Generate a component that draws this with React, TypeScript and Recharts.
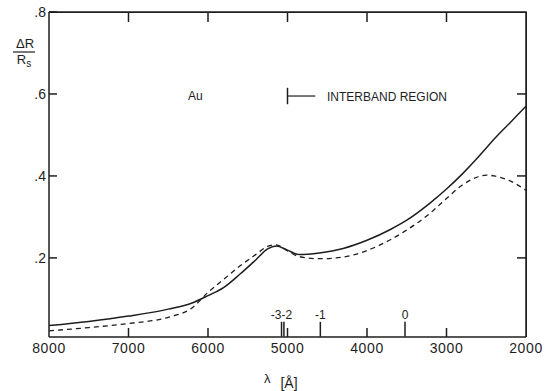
import React from 'react';
import { LineChart, Line, XAxis, YAxis, ReferenceLine, Customized } from 'recharts';

// wavelength in Angstrom (axis runs 8000 -> 2000)
const wavelengths = [8000, 7500, 7000, 6500, 6200, 6000, 5800, 5600, 5400, 5250, 5140, 5000, 4850, 4600, 4300, 4000, 3700, 3500, 3200, 3000, 2800, 2600, 2500, 2400, 2200, 2000];
const solidValues = [0.035, 0.045, 0.058, 0.075, 0.09, 0.108, 0.128, 0.16, 0.195, 0.222, 0.229, 0.219, 0.208, 0.212, 0.223, 0.243, 0.27, 0.292, 0.335, 0.368, 0.405, 0.446, 0.468, 0.49, 0.53, 0.57];
const dashedValues = [0.022, 0.03, 0.04, 0.055, 0.078, 0.116, 0.148, 0.18, 0.208, 0.228, 0.232, 0.217, 0.203, 0.198, 0.202, 0.218, 0.245, 0.268, 0.31, 0.345, 0.378, 0.398, 0.402, 0.4, 0.388, 0.365];

const xTicks = [8000, 7000, 6000, 5000, 4000, 3000, 2000];
const innerXTicks = [7000, 6000, 5000, 4000, 3000];
const yTicks = [0.2, 0.4, 0.6, 0.8];
const yTickLabels = ['.2', '.4', '.6', '.8'];
const rightYTicks = [0.2, 0.4, 0.6];

// level markers on the wavelength axis
const levelMarks = [5075, 5045, 4587, 3522];
const levelLabels = [
  { at: 5075, text: '-3-2' },
  { at: 4587, text: '-1' },
  { at: 3522, text: '0' },
];

const data = wavelengths.map((w, i) => ({ w, solid: solidValues[i], dashed: dashedValues[i] }));

const INK = '#1e1e1e';
const FONT = '"Liberation Sans", Arial, sans-serif';
const X_MIN = 2000;
const X_MAX = 8000;
const Y_MIN = 0.007;
const Y_MAX = 0.8;

// plot box (chart size minus margins / axis sizes)
const W = 549;
const H = 391;
const M = { top: 12, right: 23, bottom: 24, left: 9 };
const Y_AXIS_W = 40;
const X_AXIS_H = 30;
const PL = M.left + Y_AXIS_W;
const PR = W - M.right;
const PT = M.top;
const PB = H - M.bottom - X_AXIS_H;
const px = (v: number) => PL + ((X_MAX - v) / (X_MAX - X_MIN)) * (PR - PL);
const py = (v: number) => PB - ((v - Y_MIN) / (Y_MAX - Y_MIN)) * (PB - PT);

const BottomTick = (props: any) => {
  const { x, y, payload } = props;
  const inner = payload.value !== 8000 && payload.value !== 2000;
  return (
    <g>
      {inner && <line x1={x} x2={x} y1={y} y2={y - 9} stroke={INK} strokeWidth={1.5} />}
      <text x={x} y={y + 16} textAnchor="middle" fill={INK} fontSize={14} fontFamily={FONT} letterSpacing={0.6}>
        {payload.value}
      </text>
    </g>
  );
};

const LeftTick = (props: any) => {
  const { x, y, index } = props;
  return (
    <g>
      <line x1={x} x2={x + 8} y1={y} y2={y} stroke={INK} strokeWidth={1.5} />
      <text x={x - 3} y={y + 5} textAnchor="end" fill={INK} fontSize={14} fontFamily={FONT}>
        {yTickLabels[index]}
      </text>
    </g>
  );
};

const Annotations = () => (
  <g fontFamily={FONT} fill={INK}>
    {/* top and right frame with inward ticks */}
    <path d={`M${PL},${PT}H${PR}V${PB}`} fill="none" stroke={INK} strokeWidth={1.5} />
    {innerXTicks.map((t) => (
      <path key={'t' + t} d={`M${px(t)},${PT}V${PT + 10}`} stroke={INK} strokeWidth={1.5} />
    ))}
    {rightYTicks.map((t) => (
      <path key={'r' + t} d={`M${PR},${py(t)}H${PR - 9}`} stroke={INK} strokeWidth={1.5} />
    ))}
    {/* interband bracket */}
    <line x1={px(5000)} x2={px(5000)} y1={py(0.615)} y2={py(0.575)} stroke={INK} strokeWidth={1.5} />
    <line x1={px(5000)} x2={px(4650)} y1={py(0.595)} y2={py(0.595)} stroke={INK} strokeWidth={1.2} />
    <text x={188} y={100} fontSize={12}>Au</text>
    <text x={327} y={101} fontSize={12}>INTERBAND REGION</text>
    <text x={25} y={48} fontSize={13} textAnchor="middle">ΔR</text>
    <line x1={13} x2={35} y1={52} y2={52} stroke={INK} strokeWidth={1.2} />
    <text x={24} y={64} fontSize={13} textAnchor="middle">
      R<tspan fontSize={10} dy={3}>s</tspan>
    </text>
    <text x={264} y={383} fontSize={13}>λ</text>
    <text x={289} y={388} fontSize={14} textAnchor="middle">[Å]</text>
  </g>
);

export default function App() {
  return (
    <div style={{ position: 'absolute', left: 0, top: 0, width: W, height: H, background: '#fff' }}>
      <LineChart width={W} height={H} data={data} margin={M}>
        <XAxis
          dataKey="w"
          type="number"
          domain={[X_MIN, X_MAX]}
          reversed
          ticks={xTicks}
          height={X_AXIS_H}
          tickSize={0}
          tickMargin={0}
          tickLine={false}
          axisLine={{ stroke: INK, strokeWidth: 1.5 }}
          tick={<BottomTick />}
          allowDataOverflow
        />
        <YAxis
          type="number"
          domain={[Y_MIN, Y_MAX]}
          ticks={yTicks}
          width={Y_AXIS_W}
          tickSize={0}
          tickMargin={0}
          tickLine={false}
          axisLine={{ stroke: INK, strokeWidth: 1.5 }}
          tick={<LeftTick />}
          allowDataOverflow
        />
        {levelMarks.map((m) => (
          <ReferenceLine
            key={m}
            segment={[{ x: m, y: Y_MIN + 0.001 }, { x: m, y: 0.044 }]}
            stroke={INK}
            strokeWidth={1.5}
          />
        ))}
        {levelLabels.map((l) => (
          <ReferenceLine
            key={l.text}
            segment={[{ x: l.at, y: 0.046 }, { x: l.at, y: 0.047 }]}
            stroke="none"
            label={{ value: l.text, position: 'top', fill: INK, fontSize: 12, fontFamily: FONT, offset: 2 }}
          />
        ))}
        <Line
          type="monotone"
          dataKey="solid"
          stroke={INK}
          strokeWidth={1.5}
          dot={false}
          isAnimationActive={false}
        />
        <Line
          type="monotone"
          dataKey="dashed"
          stroke={INK}
          strokeWidth={1.3}
          strokeDasharray="5 4"
          dot={false}
          isAnimationActive={false}
        />
        <Customized component={Annotations} />
      </LineChart>
      {/* html fallback for the top / right frame edges */}
      <div
        style={{
          position: 'absolute',
          left: PL,
          top: PT - 0.5,
          width: PR - PL + 0.5,
          height: PB - PT,
          borderTop: `1.5px solid ${INK}`,
          borderRight: `1.5px solid ${INK}`,
          boxSizing: 'border-box',
          pointerEvents: 'none',
        }}
      />
    </div>
  );
}
